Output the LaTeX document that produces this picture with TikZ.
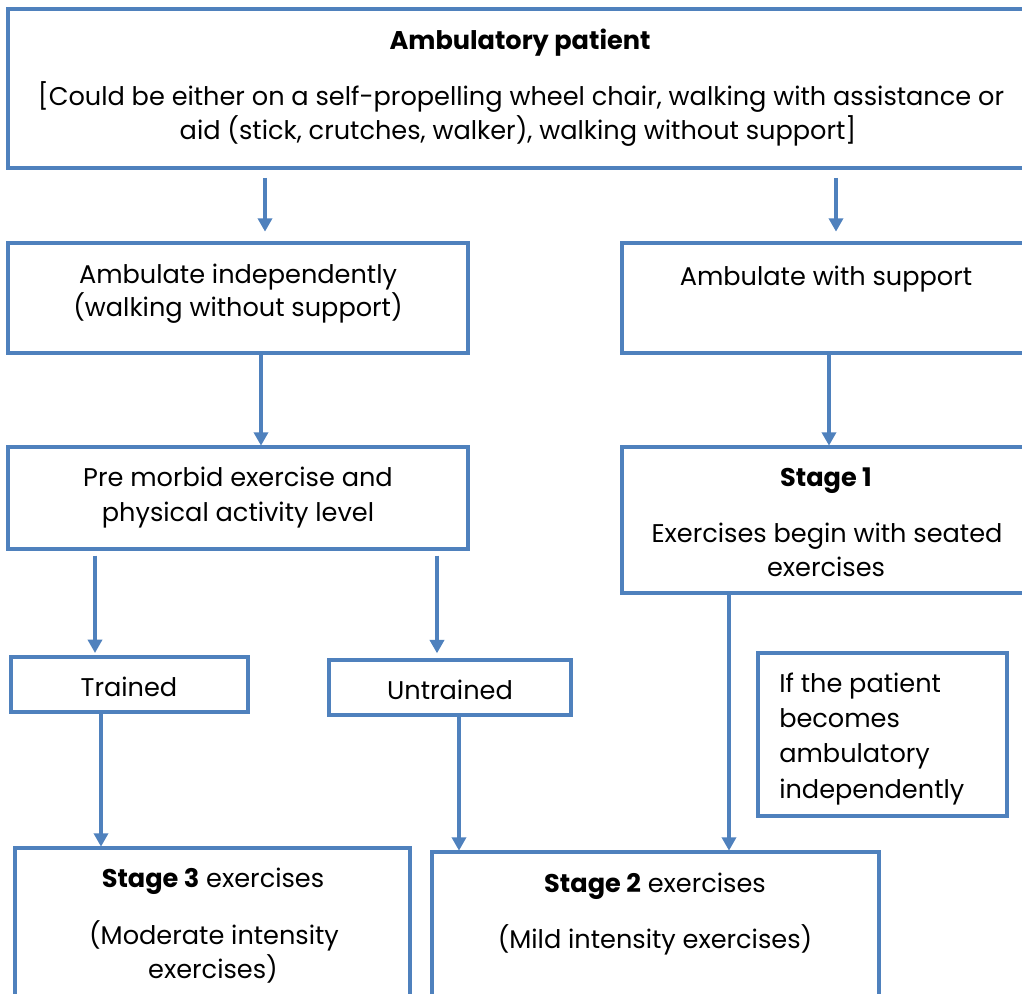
\documentclass[tikz,border=0pt]{standalone}
\usepackage{fontspec}
\setmainfont{Poppins}
\usetikzlibrary{arrows.meta}
\definecolor{bl}{HTML}{4F81BD}
\tikzset{
  bxs/.style={draw=bl,line width=2.6pt,inner sep=0pt,outer sep=0pt,rectangle,fill=none},
  tx/.style={inner sep=0pt,anchor=base,font=\fontsize{19.2}{22}\selectfont,text=black,yshift=-1.5pt},
  txl/.style={tx,anchor=base west},
  arr/.style={draw=bl,line width=2.6pt,-{Triangle[width=10.5pt,length=10pt]}},
  ln/.style={draw=bl,line width=2.6pt}
}
\newcommand{\bx}[5]{\node[bxs,anchor=north west,minimum width={(#4-#2)*0.75pt},minimum height={(#5-#3)*0.75pt}] (#1) at (#2,#3) {};}
\begin{document}
\begin{tikzpicture}[x=0.75pt,y=-0.75pt]
\useasboundingbox (0,0) rectangle (1022,994);
\clip (0,0) rectangle (1022,994);
\fill[white] (0,0) rectangle (1022,994);
% boxes
\bx{top}{8}{9}{1060}{168}
\bx{ind}{8}{243}{468}{353}
\bx{sup}{622}{243}{1060}{353}
\bx{pre}{8}{447}{468}{549}
\bx{st1}{622}{447}{1060}{593}
\bx{tra}{11}{657}{248}{712}
\bx{unt}{329}{660}{571}{715}
\bx{ifp}{758}{653}{1007}{816}
\bx{st3}{15}{848}{410}{1040}
\bx{st2}{432}{852}{879}{1040}
% texts
\node[tx] (t1) at (520,48) {\textbf{Ambulatory patient}};
\node[tx] (t2) at (521,104) {[Could be either on a self-propelling wheel chair, walking with assistance or};
\node[tx] (t3) at (518,138) {aid (stick, crutches, walker), walking without support]};
\node[tx] (t4) at (238,282) {Ambulate independently};
\node[tx] (t5) at (238,315) {(walking without support)};
\node[tx] (t6) at (826,284) {Ambulate with support};
\node[tx] (t7) at (238,485) {Pre morbid exercise and};
\node[tx] (t8) at (238,520) {physical activity level};
\node[tx] (t9) at (826,485) {\textbf{Stage 1}};
\node[tx] (t10) at (827,541) {Exercises begin with seated};
\node[tx] (t11) at (826,575) {exercises};
\node[tx] (t12) at (129,695) {Trained};
\node[tx] (t13) at (450,698) {Untrained};
\node[txl] (t14) at (779,691) {If the patient};
\node[txl] (t15) at (779,726) {becomes};
\node[txl] (t16) at (779,761) {ambulatory};
\node[txl] (t17) at (779,796) {independently};
\node[tx] (t18) at (213,885) {\textbf{Stage 3} exercises};
\node[tx] (t19) at (214,942) {(Moderate intensity};
\node[tx] (t20) at (213,976) {exercises)};
\node[tx] (t21) at (655,890) {\textbf{Stage 2} exercises};
\node[tx] (t22) at (655,946) {(Mild intensity exercises)};
% connector x positions
\coordinate (xa) at (265,0);
\coordinate (xb) at (836,0);
\coordinate (xc) at (261,0);
\coordinate (xd) at (829,0);
\coordinate (xe) at (95,0);
\coordinate (xf) at (437,0);
\coordinate (xg) at (101,0);
\coordinate (xh) at (459,0);
\coordinate (xi) at (729,0);
% connectors
\draw[arr,shorten <=7.5pt,shorten >=8.5pt] (top.south -| xa) -- (ind.north -| xa);
\draw[arr,shorten <=7.5pt,shorten >=8.5pt] (top.south -| xb) -- (sup.north -| xb);
\draw[arr,shorten >=1pt] (ind.south -| xc) -- (pre.north -| xc);
\draw[arr,shorten >=1pt] (sup.south -| xd) -- (st1.north -| xd);
\draw[arr,shorten <=5pt,shorten >=3pt] (pre.south -| xe) -- (tra.north -| xe);
\draw[arr,shorten <=5pt,shorten >=5pt] (pre.south -| xf) -- (unt.north -| xf);
\draw[arr,shorten >=1pt] (tra.south -| xg) -- (st3.north -| xg);
\draw[arr,shorten >=1pt] (unt.south -| xh) -- (st2.north -| xh);
\draw[arr,shorten >=1pt] (st1.south -| xi) -- (st2.north -| xi);
\end{tikzpicture}
\end{document}
